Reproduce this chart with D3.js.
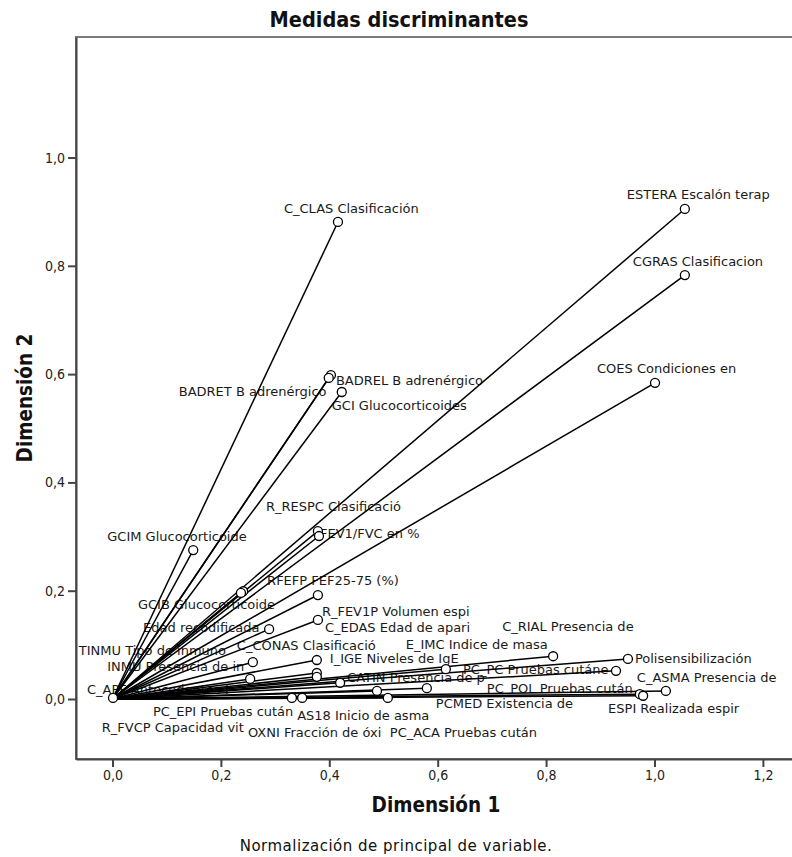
<!DOCTYPE html>
<html>
<head>
<meta charset="utf-8">
<script src="https://cdn.jsdelivr.net/npm/d3@7"></script>
<style>
  html, body { margin: 0; padding: 0; background: #fff; }
  svg { display: block; }
</style>
</head>
<body>
<svg id="chart" width="792" height="857"></svg>
<script>
// Discrimination measures per variable (dimension 1, dimension 2)
const variables = [
  "ESTERA Escalón terap", "CGRAS Clasificacion", "COES Condiciones en", "C_CLAS Clasificación",
  "BADREL B adrenérgico", "BADRET B adrenérgico", "GCI Glucocorticoides", "R_RESPC Clasificació",
  "FEV1/FVC en %", "GCIM Glucocorticoide", "RFEFP FEF25-75 (%)", "GCIB Glucocorticoide",
  "R_FEV1P Volumen espi", "C_EDAS Edad de apari", "Edad recodificada", "TINMU Tipo de inmuno",
  "C_CONAS Clasificació", "INMU Presencia de in", "I_IGE Niveles de IgE", "C_APF Antecedentes f",
  "C_RIAL Presencia de", "E_IMC Indice de masa", "Polisensibilización", "PC_PC Pruebas cutáne",
  "CATIN Presencia de p", "C_ASMA Presencia de", "PC_POL Pruebas cután", "PCMED Existencia de",
  "ESPI Realizada espir", "PC_EPI Pruebas cután", "AS18 Inicio de asma", "R_FVCP Capacidad vit",
  "OXNI Fracción de óxi", "PC_ACA Pruebas cután"
];
const dim1 = [
  1.056, 1.056, 1.001, 0.416,
  0.403, 0.399, 0.423, 0.379,
  0.381, 0.149, 0.241, 0.237,
  0.379, 0.379, 0.289, 0.259,
  0.377, 0.254, 0.377, 0.001,
  0.813, 0.615, 0.951, 0.929,
  0.420, 1.021, 0.973, 0.580,
  0.979, 0.331, 0.350, 0.377,
  0.488, 0.508
];
const dim2 = [
  0.905, 0.783, 0.584, 0.881,
  0.598, 0.593, 0.567, 0.310,
  0.301, 0.275, 0.199, 0.196,
  0.192, 0.146, 0.129, 0.068,
  0.048, 0.037, 0.072, 0.002,
  0.079, 0.055, 0.074, 0.052,
  0.030, 0.015, 0.009, 0.020,
  0.006, 0.002, 0.002, 0.041,
  0.015, 0.002
];
const xTicks = [0, 0.2, 0.4, 0.6, 0.8, 1.0, 1.2];
const yTicks = [0, 0.2, 0.4, 0.6, 0.8, 1.0];

const titleText = "Medidas discriminantes";
const xTitle = "Dimensión 1";
const yTitle = "Dimensión 2";
const footnote = "Normalización de principal de variable.";

// Label placement (pixel offset of the label's left edge / vertical centre from its point)
const labelOffsets = [
  [-58, -14], [-52, -14], [-58, -14], [-54, -13],
  [5, 5], [-150, 14], [-10, 14], [-52, -25],
  [1, -3], [-86, -14], [24, -11], [-103, 12],
  [4, 16], [7, 8], [-126, -2], [-174, -12],
  [-80, -28], [-143, -12], [13, -2], [-26, -8],
  [-51, -30], [-40, -25], [7, 0], [-153, -1],
  [7, -5], [-29, -13], [-153, -6], [9, 15],
  [-35, 13], [-139, 14], [-5, 18], [-215, 51],
  [-129, 42], [2, 35]
];

const svg = d3.select("#chart");
const frame = { left: 76, right: 800, top: 37, bottom: 759 };

const x = d3.scaleLinear().domain([-0.0673, 1.2537]).range([frame.left, 792]);
const y = d3.scaleLinear().domain([-0.1108, 1.2226]).range([frame.bottom, frame.top]);
const fmt = v => d3.format(".1f")(v).replace(".", ",");

const labelFont = "'DejaVu Sans', sans-serif";
const condensed = "'DejaVu Sans Condensed', 'DejaVu Sans', sans-serif";

// Plot frame
svg.append("rect")
  .attr("x", frame.left).attr("y", frame.top)
  .attr("width", frame.right - frame.left).attr("height", frame.bottom - frame.top)
  .attr("fill", "none").attr("stroke", "#7a7a7a").attr("stroke-width", 2);

// Axes
const xAxis = d3.axisBottom(x).tickValues(xTicks).tickFormat(fmt).tickSize(8).tickSizeOuter(0);
const yAxis = d3.axisLeft(y).tickValues(yTicks).tickFormat(fmt).tickSize(8).tickSizeOuter(0);

const gx = svg.append("g").attr("transform", `translate(0,${frame.bottom})`).call(xAxis);
const gy = svg.append("g").attr("transform", `translate(${frame.left},0)`).call(yAxis);
[gx, gy].forEach(g => {
  g.select(".domain").attr("stroke", "#444").attr("stroke-width", 2);
  g.selectAll(".tick line").attr("stroke", "#444").attr("stroke-width", 2);
  g.selectAll(".tick text")
    .attr("font-family", condensed)
    .attr("font-size", 14).attr("fill", "#222");
});
gx.selectAll(".tick text").attr("y", 11).attr("dy", "0.71em");
gy.selectAll(".tick text").attr("x", -11);

const data = variables.map((name, i) => ({
  name, d1: dim1[i], d2: dim2[i], off: labelOffsets[i]
}));

// Labels under the vectors
svg.append("g").selectAll("text").data(data).join("text")
  .attr("x", d => x(d.d1) + d.off[0])
  .attr("y", d => y(d.d2) + d.off[1])
  .attr("dominant-baseline", "central")
  .attr("font-family", labelFont)
  .attr("font-size", 13)
  .attr("fill", "#1a1a1a")
  .text(d => d.name);

// Vectors from origin
svg.append("g").selectAll("line").data(data).join("line")
  .attr("x1", x(0)).attr("y1", y(0))
  .attr("x2", d => x(d.d1)).attr("y2", d => y(d.d2))
  .attr("stroke", "#000").attr("stroke-width", 1.5);

// End points
svg.append("g").selectAll("circle").data(data).join("circle")
  .attr("cx", d => x(d.d1)).attr("cy", d => y(d.d2))
  .attr("r", 4.5)
  .attr("fill", "#fff").attr("stroke", "#000").attr("stroke-width", 1.3);

// Titles
svg.append("text")
  .attr("x", 399).attr("y", 19)
  .attr("text-anchor", "middle").attr("dominant-baseline", "central")
  .attr("font-family", condensed)
  .attr("font-weight", "bold").attr("font-size", 21.5).attr("fill", "#111")
  .text(titleText);

svg.append("text")
  .attr("x", 436).attr("y", 805)
  .attr("text-anchor", "middle").attr("dominant-baseline", "central")
  .attr("font-family", condensed)
  .attr("font-weight", "bold").attr("font-size", 20.5).attr("fill", "#111")
  .text(xTitle);

svg.append("text")
  .attr("transform", "translate(25,398) rotate(-90)")
  .attr("text-anchor", "middle").attr("dominant-baseline", "central")
  .attr("font-family", condensed)
  .attr("font-weight", "bold").attr("font-size", 20.5).attr("fill", "#111")
  .text(yTitle);

svg.append("text")
  .attr("x", 396).attr("y", 846)
  .attr("text-anchor", "middle").attr("dominant-baseline", "central")
  .attr("font-family", labelFont)
  .attr("font-size", 15).attr("letter-spacing", 0.5).attr("fill", "#111")
  .text(footnote);
</script>
</body>
</html>
